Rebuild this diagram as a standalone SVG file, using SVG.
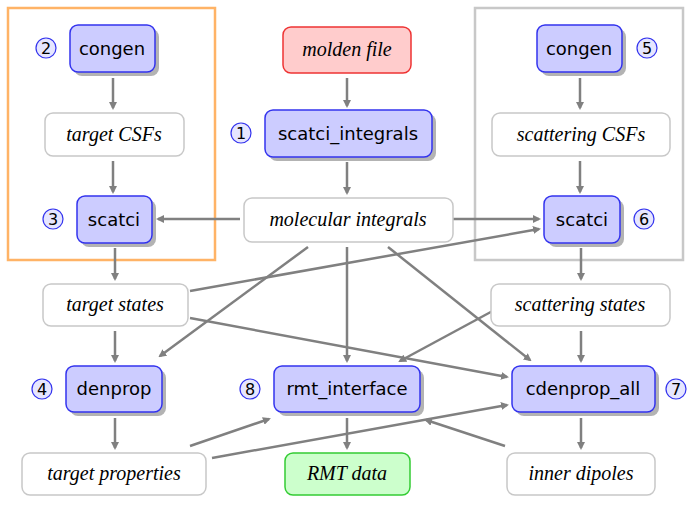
<svg xmlns="http://www.w3.org/2000/svg" width="693" height="505" viewBox="0 0 693 505">
<style>
.prog{fill:#ccccff;stroke:#3333ee;stroke-width:1.5}
.sh{fill:#b3b3b3}
.data{fill:#fff;stroke:#c8c8c8;stroke-width:1.5}
.pt{font-family:"DejaVu Sans",sans-serif;font-size:18px;text-anchor:middle;fill:#000}
.dt{font-family:"Liberation Serif",serif;font-style:italic;font-size:20px;text-anchor:middle;fill:#000}
.num{fill:#e6e6ff;stroke:#3333ee;stroke-width:1.2}
.nt{font-family:"DejaVu Sans",sans-serif;font-size:16px;text-anchor:middle;fill:#000}
.c line{stroke:#808080;stroke-width:2.5;marker-end:url(#ah)}
</style>
<defs><marker id="ah" markerWidth="8" markerHeight="8" refX="6" refY="4" orient="auto" markerUnits="userSpaceOnUse"><path d="M0,0 L8,4 L0,8 Z" fill="#808080"/></marker></defs>
<rect x="8" y="8" width="207" height="252" fill="none" stroke="#ffb366" stroke-width="2.5"/>
<rect x="475" y="8" width="208" height="252" fill="none" stroke="#c8c8c8" stroke-width="2.5"/>
<g class="c">
<line x1="113" y1="78" x2="113" y2="108"/>
<line x1="113" y1="161" x2="113" y2="192"/>
<line x1="347" y1="78" x2="347" y2="106"/>
<line x1="347" y1="162" x2="347" y2="193"/>
<line x1="240" y1="219" x2="158" y2="219"/>
<line x1="453" y1="219" x2="539" y2="219"/>
<line x1="580" y1="78" x2="580" y2="108"/>
<line x1="580" y1="161" x2="580" y2="192"/>
<line x1="115" y1="248" x2="115" y2="279"/>
<line x1="581" y1="248" x2="581" y2="279"/>
<line x1="190" y1="291" x2="539" y2="229"/>
<line x1="190" y1="318" x2="507" y2="377"/>
<line x1="115" y1="331" x2="115" y2="361"/>
<line x1="308" y1="247" x2="160" y2="356"/>
<line x1="347" y1="247" x2="347" y2="361"/>
<line x1="388" y1="247" x2="530" y2="360"/>
<line x1="500" y1="307" x2="400" y2="361"/>
<line x1="581" y1="331" x2="581" y2="361"/>
<line x1="115" y1="418" x2="115" y2="448"/>
<line x1="190" y1="446" x2="269" y2="419"/>
<line x1="212" y1="458" x2="507" y2="405"/>
<line x1="505" y1="446" x2="426" y2="420"/>
<line x1="347" y1="418" x2="347" y2="448"/>
<line x1="581" y1="418" x2="581" y2="448"/>
</g>
<g id="congenL"><rect class="sh" x="74" y="29" width="85" height="47" rx="8"/><rect class="prog" x="70" y="25" width="85" height="47" rx="8"/><text class="pt" x="112" y="55">congen</text><circle class="num" cx="46" cy="48" r="10"/><text class="nt" x="46" y="54">2</text></g>
<g id="targetCSFs"><rect class="data" x="45" y="113" width="139" height="43" rx="8"/><text class="dt" x="114" y="141">target CSFs</text></g>
<g id="scatciL"><rect class="sh" x="81" y="200" width="75" height="47" rx="8"/><rect class="prog" x="77" y="196" width="75" height="47" rx="8"/><text class="pt" x="114" y="226">scatci</text><circle class="num" cx="53" cy="219" r="10"/><text class="nt" x="53" y="225">3</text></g>
<g id="molden"><rect x="283" y="27" width="128" height="46" rx="8" fill="#ffcccc" stroke="#ee3333" stroke-width="1.5"/><text class="dt" x="347" y="56">molden file</text></g>
<g id="scatciint"><rect class="sh" x="269" y="114" width="167" height="47" rx="8"/><rect class="prog" x="265" y="110" width="167" height="47" rx="8"/><text class="pt" x="348" y="140">scatci_integrals</text><circle class="num" cx="241" cy="133" r="10"/><text class="nt" x="241" y="139">1</text></g>
<g id="molint"><rect class="data" x="244" y="198" width="209" height="44" rx="8"/><text class="dt" x="348" y="226">molecular integrals</text></g>
<g id="congenR"><rect class="sh" x="541" y="29" width="85" height="47" rx="8"/><rect class="prog" x="537" y="25" width="85" height="47" rx="8"/><text class="pt" x="579" y="55">congen</text><circle class="num" cx="647" cy="48" r="10"/><text class="nt" x="647" y="54">5</text></g>
<g id="scatCSFs"><rect class="data" x="492" y="113" width="178" height="43" rx="8"/><text class="dt" x="581" y="141">scattering CSFs</text></g>
<g id="scatciR"><rect class="sh" x="548" y="200" width="76" height="47" rx="8"/><rect class="prog" x="544" y="196" width="76" height="47" rx="8"/><text class="pt" x="582" y="226">scatci</text><circle class="num" cx="644" cy="219" r="10"/><text class="nt" x="644" y="225">6</text></g>
<g id="tstates"><rect class="data" x="43" y="284" width="145" height="42" rx="8"/><text class="dt" x="115" y="311">target states</text></g>
<g id="sstates"><rect class="data" x="491" y="284" width="179" height="42" rx="8"/><text class="dt" x="580" y="311">scattering states</text></g>
<g id="denprop"><rect class="sh" x="70" y="370" width="96" height="46" rx="8"/><rect class="prog" x="66" y="366" width="96" height="46" rx="8"/><text class="pt" x="114" y="395">denprop</text><circle class="num" cx="42" cy="389" r="10"/><text class="nt" x="42" y="395">4</text></g>
<g id="rmt"><rect class="sh" x="278" y="370" width="146" height="46" rx="8"/><rect class="prog" x="274" y="366" width="146" height="46" rx="8"/><text class="pt" x="347" y="395">rmt_interface</text><circle class="num" cx="250" cy="389" r="10"/><text class="nt" x="250" y="395">8</text></g>
<g id="cdenprop"><rect class="sh" x="516" y="370" width="143" height="46" rx="8"/><rect class="prog" x="512" y="366" width="143" height="46" rx="8"/><text class="pt" x="583" y="395">cdenprop_all</text><circle class="num" cx="676" cy="389" r="10"/><text class="nt" x="676" y="395">7</text></g>
<g id="tprops"><rect class="data" x="22" y="453" width="184" height="42" rx="8"/><text class="dt" x="114" y="480">target properties</text></g>
<g id="rmtdata"><rect x="285" y="453" width="125" height="42" rx="8" fill="#ccffcc" stroke="#33cc33" stroke-width="1.5"/><text class="dt" x="347" y="480">RMT data</text></g>
<g id="dipoles"><rect class="data" x="507" y="453" width="148" height="42" rx="8"/><text class="dt" x="581" y="480">inner dipoles</text></g>
</svg>
